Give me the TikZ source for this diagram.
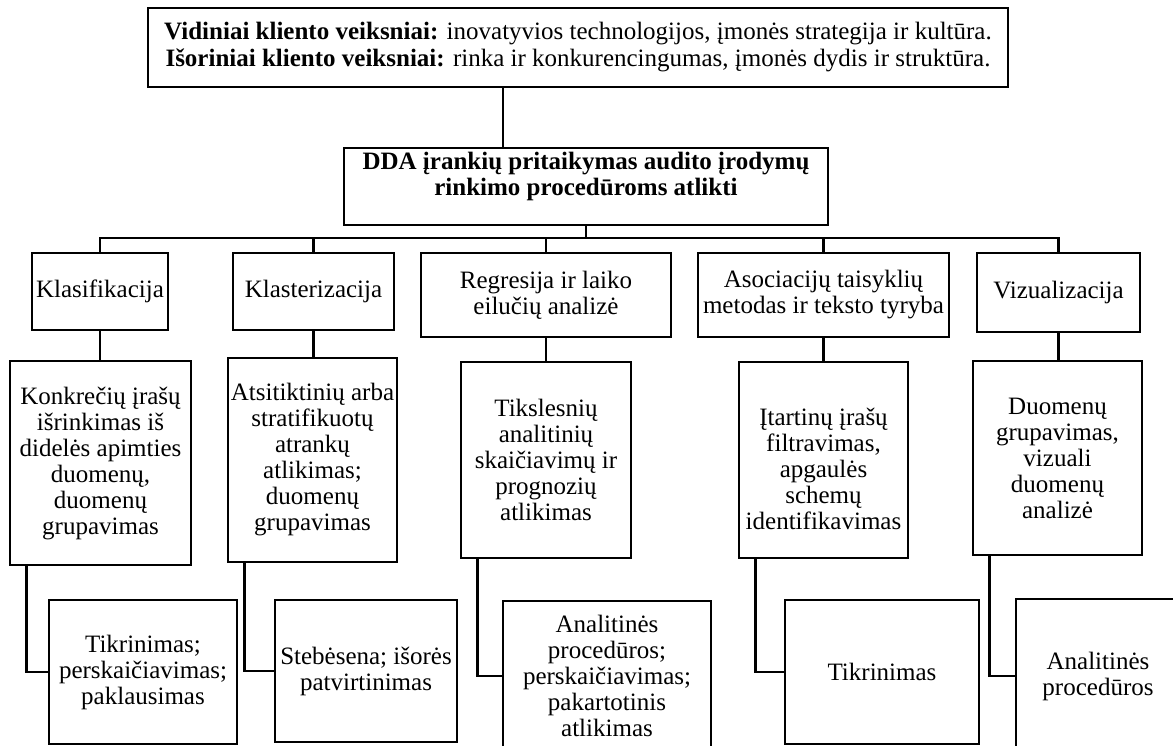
\documentclass[tikz,border=0pt]{standalone}
\usepackage{fontspec}
\setmainfont{Liberation Serif}
\newcommand\boxfont{\fontsize{25}{26}\selectfont}
\tikzset{
  box/.style={draw, line width=2.4pt, inner sep=0pt, align=center, font=\boxfont},
  boxtext/.style={align=center, inner sep=0pt, font=\boxfont},
  link/.style={line width=2.4pt},
}
\begin{document}
\begin{tikzpicture}[x=1pt, y=-1pt]
\fill[white] (0,0) rectangle (1173,746);
\useasboundingbox (0,0) rectangle (1173,746);
\clip (0,0) rectangle (1173,746);

% client factors and the main topic
\node[box, minimum width=860, minimum height=79] (top) at (578,47.5)
  {\textbf{Vidiniai kliento veiksniai:} inovatyvios technologijos, įmonės strategija ir kultūra.\\[1pt]
   \textbf{Išoriniai kliento veiksniai:} rinka ir konkurencingumas, įmonės dydis ir struktūra.};
\node[box, minimum width=484, minimum height=77] (main) at (586,186.5) {};
\node[boxtext, font=\boxfont\bfseries] (maintext) at ([yshift=10pt]main.center)
  {DDA įrankių pritaikymas audito įrodymų\\ rinkimo procedūroms atlikti};

% data analysis methods
\node[box, minimum width=136, minimum height=77] (k1) at (100,291.5) {Klasifikacija};
\node[box, minimum width=161, minimum height=77] (k2) at (313.5,291.5) {Klasterizacija};
\node[box, minimum width=250, minimum height=84] (k3) at (546,295) {Regresija ir laiko\\ eilučių analizė};
\node[box, minimum width=251, minimum height=84] (k4) at (823.5,295) {Asociacijų taisyklių\\ metodas ir teksto tyryba};
\node[box, minimum width=163, minimum height=79] (k5) at (1058.5,292.5) {Vizualizacija};

% what each method is used for
\node[box, minimum width=181, minimum height=204] (m1) at (100.5,463)
  {Konkrečių įrašų\\ išrinkimas iš\\ didelės apimties\\ duomenų,\\ duomenų\\ grupavimas};
\node[box, minimum width=169, minimum height=204] (m2) at (312.5,460)
  {Atsitiktinių arba\\ stratifikuotų\\ atrankų\\ atlikimas;\\ duomenų\\ grupavimas};
\node[box, minimum width=170, minimum height=196] (m3) at (546,460)
  {Tikslesnių\\ analitinių\\ skaičiavimų ir\\ prognozių\\ atlikimas};
\node[box, minimum width=169, minimum height=196] (m4) at (823.5,460) {};
\node[boxtext] (m4text) at ([yshift=-9pt]m4.center)
  {Įtartinų įrašų\\ filtravimas,\\ apgaulės\\ schemų\\ identifikavimas};
\node[box, minimum width=169, minimum height=194] (m5) at (1057.5,458)
  {Duomenų\\ grupavimas,\\ vizuali\\ duomenų\\ analizė};

% audit procedures
\node[box, minimum width=188, minimum height=144] (n1) at (143,672)
  {Tikrinimas;\\ perskaičiavimas;\\ paklausimas};
\node[box, minimum width=182, minimum height=142] (n2) at (366,671)
  {Stebėsena; išorės\\ patvirtinimas};
\node[box, minimum width=208, minimum height=150] (n3) at (607,676)
  {Analitinės\\ procedūros;\\ perskaičiavimas;\\ pakartotinis\\ atlikimas};
\node[box, minimum width=194, minimum height=144] (n4) at (882,672) {Tikrinimas};
\node[box, minimum width=164, minimum height=154] (n5) at (1098,676)
  {Analitinės\\ procedūros};

% connectors
\coordinate (tdrop) at (503,0);
\coordinate (bus) at (0,238);
\draw[link] (top.south -| tdrop) -- (main.north -| tdrop);
\draw[link] (main.south) -- (main.south |- bus);
\draw[link] (k1.north) |- (k5.north |- bus) -- (k5.north);
\foreach \k in {k2,k3,k4}
  \draw[link] (\k.north) -- (\k.north |- bus);
\foreach \k/\m in {k1/m1,k2/m2,k3/m3,k4/m4,k5/m5}
  \draw[link] (\k.south) -- (\k.south |- \m.north);
\foreach \m/\n in {m1/n1,m2/n2,m3/n3,m4/n4,m5/n5}
  \draw[link] ([xshift=17.5pt]\m.south west) |- (\n.west);
\end{tikzpicture}
\end{document}
